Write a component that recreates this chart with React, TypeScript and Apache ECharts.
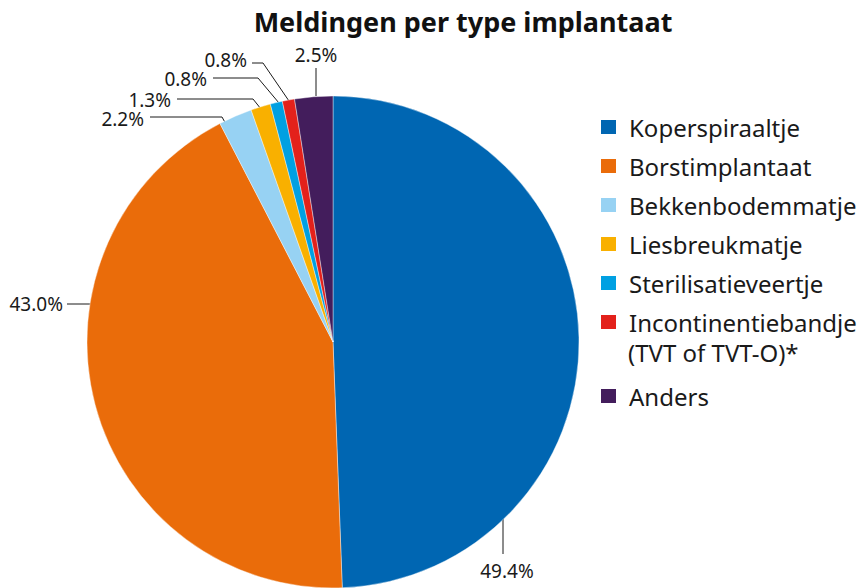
import React, { useEffect, useRef } from "react";
import * as echarts from "echarts";

const categories = [
  "Koperspiraaltje",
  "Borstimplantaat",
  "Bekkenbodemmatje",
  "Liesbreukmatje",
  "Sterilisatieveertje",
  "Incontinentiebandje",
  "Anders",
];
const values = [49.4, 43.0, 2.2, 1.3, 0.8, 0.8, 2.5];
const colors = ["#0066b2", "#ea6c0a", "#97d2f3", "#f9b000", "#00a0e2", "#e3211b", "#431d5c"];
const subtitleSecondLine = "(TVT of TVT-O)*";
const title = "Meldingen per type implantaat";

// label placement (positions only)
const labelPos: { x: number; y: number; align: string; line: number[][] }[] = [
  { x: 507, y: 571, align: "center", line: [[503, 514], [503, 554]] },
  { x: 63, y: 304, align: "right", line: [[67, 304], [92, 304]] },
  { x: 144, y: 119, align: "right", line: [[150, 117], [222, 117], [227, 126]] },
  { x: 171, y: 100, align: "right", line: [[177, 99], [253, 99], [261, 109]] },
  { x: 207, y: 79, align: "right", line: [[213, 78], [258, 78], [279, 103]] },
  { x: 247, y: 60, align: "right", line: [[252, 63], [263, 63], [289, 101]] },
  { x: 316, y: 55, align: "center", line: [[316, 68], [316, 96]] },
];

export default function App() {
  const ref = useRef<HTMLDivElement>(null);
  useEffect(() => {
    document.body.style.margin = "0";
    const chart = echarts.init(ref.current!, null, { renderer: "svg" });
    const font = "Noto Sans";
    const legendText = {
      fontFamily: font,
      fontSize: 24,
      color: "#1a1a1a",
      lineHeight: 30,
      padding: [0, 0, 0, 7],
    };
    chart.setOption({
      animation: false,
      backgroundColor: "#ffffff",
      color: colors,
      title: {
        text: title,
        left: 458,
        textAlign: "center",
        top: 3,
        textStyle: { fontFamily: font, fontSize: 27, fontWeight: "bold", color: "#111" },
      },
      legend: [
        {
          data: categories.slice(0, 6),
          orient: "vertical",
          left: 599,
          top: 112,
          padding: 0,
          itemGap: 9,
          itemWidth: 17,
          itemHeight: 16,
          icon: "rect",
          selectedMode: false,
          textStyle: legendText,
        },
        {
          data: categories.slice(6),
          orient: "vertical",
          left: 599,
          top: 381,
          padding: 0,
          itemWidth: 17,
          itemHeight: 16,
          icon: "rect",
          selectedMode: false,
          textStyle: legendText,
        },
      ],
      graphic: [
        {
          type: "text",
          left: 628,
          top: 340,
          style: {
            text: subtitleSecondLine,
            fontFamily: font,
            fontSize: 24,
            fontWeight: "normal",
            fill: "#1a1a1a",
            lineWidth: 0,
          },
        },
      ],
      series: [
        {
          type: "pie",
          center: [333, 342],
          radius: [0, 246],
          startAngle: 90,
          clockwise: true,
          avoidLabelOverlap: false,
          itemStyle: { borderColor: "#ffffff", borderWidth: 0.4 },
          emphasis: { disabled: true },
          data: categories.map((c, i) => ({ name: c, value: values[i] })),
          label: {
            show: true,
            formatter: (p: any) => p.value.toFixed(1) + "%",
            fontFamily: font,
            fontSize: 19,
            lineHeight: 19,
            color: "#1a1a1a",
          },
          labelLine: { show: true, lineStyle: { color: "#1a1a1a", width: 1 } },
          labelLayout: (params: any) => {
            const lp = labelPos[params.dataIndex];
            return {
              x: lp.x,
              y: lp.y,
              align: lp.align,
              verticalAlign: "middle",
              labelLinePoints: lp.line,
            };
          },
        },
      ],
    });
    return () => chart.dispose();
  }, []);
  return <div ref={ref} style={{ width: 860, height: 588 }} />;
}
